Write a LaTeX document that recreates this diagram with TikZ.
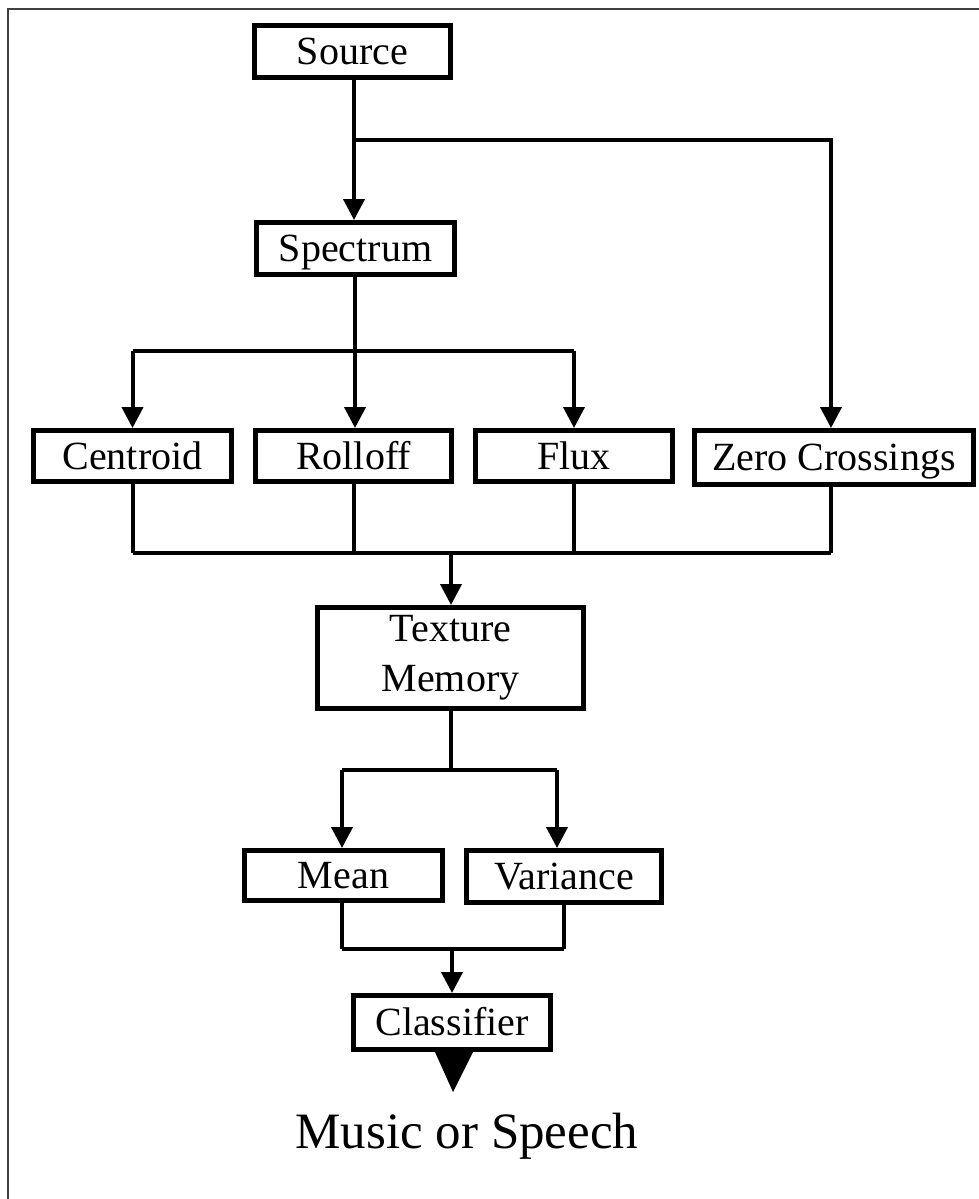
\documentclass[tikz,border=0pt]{standalone}
\usepackage{fontspec}
\setmainfont{Liberation Serif}
\usetikzlibrary{arrows.meta}
\begin{document}
\begin{tikzpicture}[x=0.5pt,y=-0.5pt,
  stagebase/.style={draw,line width=2.5pt,inner sep=0pt,align=center,
    font=\fontsize{20pt}{25pt}\selectfont},
  stagebox/.style={stagebase,text height=13.2pt,text depth=0pt},
  wire/.style={line width=2pt},
  feed/.style={line width=2pt,-{Triangle[width=10.5pt,length=10.5pt]}},
  frameline/.style={draw=black!75,line width=1.4pt}]
\useasboundingbox (0,0) rectangle (979,1199);
% page frame (left and top edges)
\draw[frameline] (8,1199) -- (8,9) -- (979,9);

% processing stages
\node[stagebox,minimum width=98pt,minimum height=26pt] (Source) at (352.5,51.5) {Source};
\node[stagebox,minimum width=99pt,minimum height=26pt] (Spectrum) at (355.5,248.5) {Spectrum};
\node[stagebox,minimum width=99pt,minimum height=25.5pt] (Centroid) at (132.5,456) {Centroid};
\node[stagebox,minimum width=98pt,minimum height=25.5pt] (Rolloff) at (353.5,456) {Rolloff};
\node[stagebox,minimum width=98.5pt,minimum height=25.5pt] (Flux) at (574,456) {Flux};
\node[stagebox,minimum width=139.5pt,minimum height=27pt] (Zero) at (834,457.5) {Zero Crossings};
\node[stagebase,minimum width=133pt,minimum height=50.5pt] (Texture) at (450.5,658) {Texture\\Memory};
\node[stagebox,minimum width=99pt,minimum height=25pt] (Mean) at (343.5,875.5) {Mean};
\node[stagebox,minimum width=97.5pt,minimum height=26pt] (Variance) at (564,876.5) {Variance};
\node[stagebox,minimum width=98.5pt,minimum height=27pt] (Classifier) at (452,1022.5) {Classifier};
\node[font=\fontsize{25.5pt}{30pt}\selectfont,anchor=base,inner sep=0pt] (Out) at (467,1148) {Music or Speech};

% junction points
\coordinate (srcbus) at (354,140);
\coordinate (specbus) at (355,351);
\coordinate (featbus) at (451,553);
\coordinate (texbus) at (451,770);
\coordinate (varin) at (557,770);
\coordinate (statbus) at (452,949);

% source to spectrum and zero crossings
\draw[feed] (Source.south -| srcbus) -- (srcbus |- Spectrum.north);
\draw[feed] (srcbus) -| (Zero.north -| 831,0);

% spectrum to spectral features
\draw[wire] (Spectrum.south -| specbus) -- (specbus);
\draw[wire] (Centroid.north |- specbus) -- (Flux.north |- specbus);
\draw[feed] (Centroid.north |- specbus) -- (Centroid.north);
\draw[feed] (specbus) -- (specbus |- Rolloff.north);
\draw[feed] (Flux.north |- specbus) -- (Flux.north);

% features gathered into texture memory
\draw[wire] (Centroid.south) -- (Centroid.south |- featbus);
\draw[wire] (Rolloff.south) -- (Rolloff.south |- featbus);
\draw[wire] (Flux.south) -- (Flux.south |- featbus);
\draw[wire] (Zero.south -| 831,0) -- (831,0 |- featbus);
\draw[wire] (Centroid.south |- featbus) -- (831,0 |- featbus);
\draw[feed] (featbus) -- (featbus |- Texture.north);

% texture memory to statistics
\draw[wire] (Texture.south -| texbus) -- (texbus);
\draw[wire] (342,0 |- texbus) -- (varin);
\draw[feed] (342,0 |- texbus) -- (342,0 |- Mean.north);
\draw[feed] (varin) -- (varin |- Variance.north);

% statistics to classifier
\draw[wire] (Mean.south -| 342,0) -- (342,0 |- statbus);
\draw[wire] (Variance.south) -- (Variance.south |- statbus);
\draw[wire] (342,0 |- statbus) -- (Variance.south |- statbus);
\draw[feed] (statbus) -- (statbus |- Classifier.north);

% output pointer
\fill (Classifier.south) ++(-17,0) -- ++(38,0) -- ++(-20,40) -- cycle;
\end{tikzpicture}
\end{document}
